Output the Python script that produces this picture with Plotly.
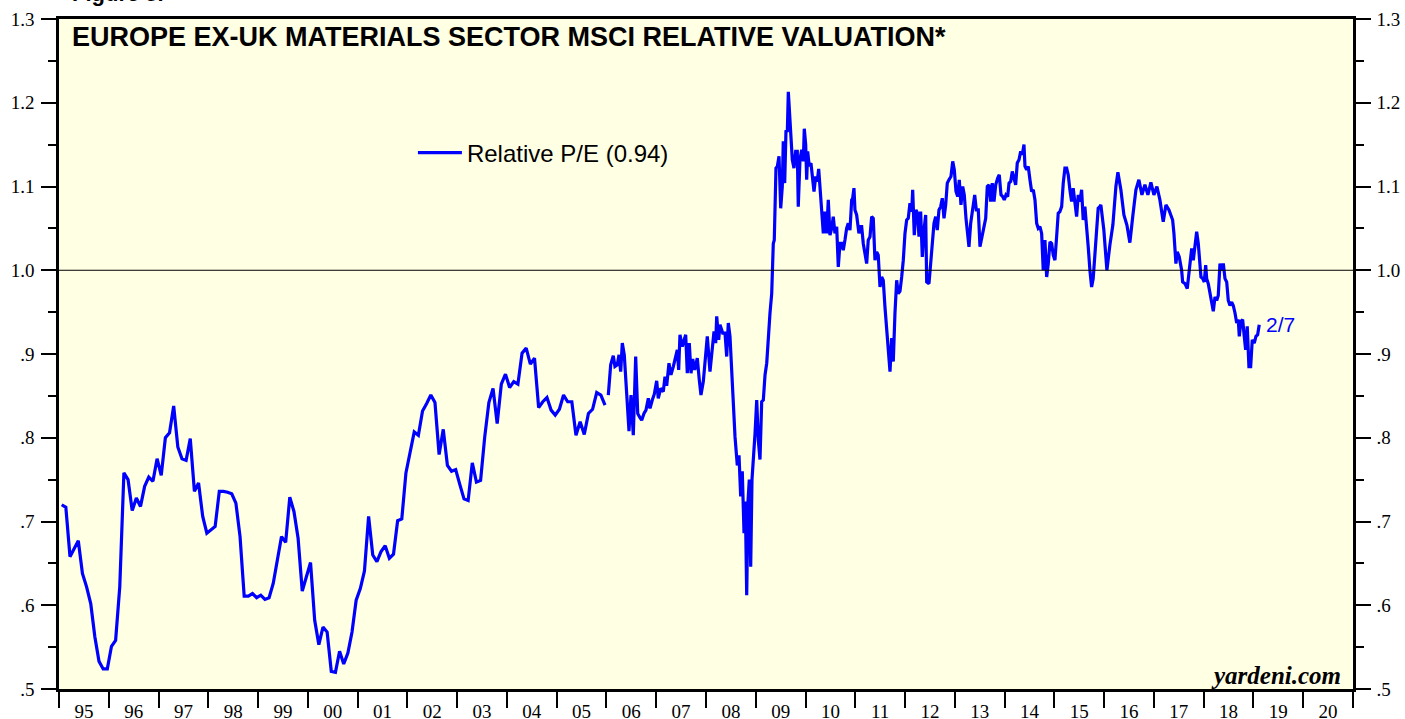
import plotly.graph_objects as go

# ---------------- data ----------------
# Monthly relative P/E, Jan 1995 - Dec 2005
monthly_pe = [
    0.720, 0.717, 0.658, 0.667, 0.677, 0.638, 0.622, 0.602, 0.562, 0.533, 0.524, 0.524,
    0.551, 0.558, 0.622, 0.758, 0.750, 0.713, 0.728, 0.718, 0.742, 0.753, 0.748, 0.775,
    0.755, 0.800, 0.806, 0.838, 0.789, 0.775, 0.773, 0.799, 0.736, 0.746, 0.706, 0.686,
    0.690, 0.694, 0.736, 0.736, 0.735, 0.733, 0.722, 0.682, 0.611, 0.611, 0.614, 0.609,
    0.612, 0.607, 0.609, 0.626, 0.654, 0.682, 0.675, 0.729, 0.712, 0.680, 0.617, 0.634,
    0.651, 0.582, 0.553, 0.574, 0.568, 0.521, 0.520, 0.545, 0.530, 0.543, 0.568, 0.606,
    0.620, 0.641, 0.706, 0.660, 0.652, 0.664, 0.671, 0.656, 0.661, 0.701, 0.703, 0.758,
    0.781, 0.807, 0.803, 0.832, 0.841, 0.851, 0.842, 0.780, 0.810, 0.767, 0.760, 0.762,
    0.744, 0.727, 0.725, 0.770, 0.747, 0.749, 0.801, 0.842, 0.859, 0.817, 0.864, 0.876,
    0.860, 0.867, 0.864, 0.901, 0.907, 0.888, 0.895, 0.836, 0.843, 0.848, 0.833, 0.827,
    0.834, 0.851, 0.843, 0.843, 0.803, 0.819, 0.804, 0.829, 0.834, 0.854, 0.851, 0.839,
]
MONTHLY_START_YEAR = 1995

# Weekly relative P/E (decimal years), 2006 - Feb 7 2019
weekly_t = [
    2006.037, 2006.085, 2006.137, 2006.171, 2006.218, 2006.252, 2006.286, 2006.318, 2006.358, 2006.406,
    2006.453, 2006.493, 2006.539, 2006.587, 2006.628, 2006.674, 2006.708, 2006.754, 2006.794, 2006.841,
    2006.875, 2006.921, 2006.961, 2007.009, 2007.041, 2007.090, 2007.142, 2007.176, 2007.210, 2007.256,
    2007.296, 2007.343, 2007.391, 2007.423, 2007.451, 2007.477, 2007.524, 2007.558, 2007.592, 2007.624,
    2007.664, 2007.699, 2007.733, 2007.773, 2007.825, 2007.865, 2007.899, 2007.946, 2007.994, 2008.026,
    2008.080, 2008.127, 2008.161, 2008.195, 2008.215, 2008.255, 2008.281, 2008.336, 2008.382, 2008.416,
    2008.448, 2008.482, 2008.517, 2008.549, 2008.583, 2008.629, 2008.663, 2008.697, 2008.729, 2008.764,
    2008.790, 2008.818, 2008.844, 2008.870, 2008.898, 2008.924, 2008.951, 2008.985, 2009.019, 2009.051,
    2009.085, 2009.119, 2009.152, 2009.186, 2009.220, 2009.252, 2009.286, 2009.320, 2009.352, 2009.372,
    2009.406, 2009.433, 2009.467, 2009.501, 2009.533, 2009.553, 2009.581, 2009.607, 2009.634, 2009.654,
    2009.688, 2009.708, 2009.734, 2009.768, 2009.802, 2009.834, 2009.854, 2009.888, 2009.923, 2009.955,
    2009.975, 2010.003, 2010.023, 2010.043, 2010.075, 2010.109, 2010.144, 2010.170, 2010.204, 2010.236,
    2010.264, 2010.290, 2010.324, 2010.357, 2010.391, 2010.425, 2010.457, 2010.491, 2010.525, 2010.557,
    2010.591, 2010.626, 2010.658, 2010.692, 2010.726, 2010.758, 2010.792, 2010.826, 2010.858, 2010.893,
    2010.927, 2010.947, 2010.973, 2010.993, 2011.027, 2011.047, 2011.073, 2011.108, 2011.128, 2011.160,
    2011.194, 2011.228, 2011.260, 2011.295, 2011.329, 2011.361, 2011.395, 2011.429, 2011.461, 2011.496,
    2011.530, 2011.562, 2011.596, 2011.630, 2011.662, 2011.697, 2011.731, 2011.763, 2011.797, 2011.831,
    2011.863, 2011.898, 2011.932, 2011.964, 2011.998, 2012.032, 2012.064, 2012.098, 2012.133, 2012.153,
    2012.185, 2012.219, 2012.253, 2012.279, 2012.313, 2012.346, 2012.380, 2012.414, 2012.434, 2012.480,
    2012.514, 2012.547, 2012.581, 2012.615, 2012.647, 2012.681, 2012.715, 2012.748, 2012.782, 2012.816,
    2012.848, 2012.882, 2012.922, 2012.957, 2012.989, 2013.023, 2013.057, 2013.089, 2013.123, 2013.158,
    2013.190, 2013.224, 2013.258, 2013.284, 2013.318, 2013.359, 2013.399, 2013.431, 2013.471, 2013.505,
    2013.539, 2013.586, 2013.620, 2013.652, 2013.686, 2013.720, 2013.752, 2013.787, 2013.821, 2013.861,
    2013.893, 2013.927, 2013.961, 2013.993, 2014.027, 2014.062, 2014.088, 2014.122, 2014.154, 2014.188,
    2014.222, 2014.254, 2014.289, 2014.323, 2014.355, 2014.389, 2014.409, 2014.443, 2014.475, 2014.509,
    2014.543, 2014.576, 2014.610, 2014.644, 2014.676, 2014.710, 2014.744, 2014.776, 2014.810, 2014.845,
    2014.877, 2014.911, 2014.945, 2014.977, 2015.011, 2015.045, 2015.077, 2015.111, 2015.146, 2015.178,
    2015.212, 2015.246, 2015.278, 2015.312, 2015.346, 2015.378, 2015.413, 2015.447, 2015.479, 2015.513,
    2015.547, 2015.579, 2015.613, 2015.647, 2015.680, 2015.714, 2015.748, 2015.780, 2015.814, 2015.848,
    2015.880, 2015.914, 2015.934, 2015.994, 2016.055, 2016.115, 2016.175, 2016.236, 2016.276, 2016.336,
    2016.397, 2016.457, 2016.517, 2016.578, 2016.638, 2016.698, 2016.759, 2016.819, 2016.879, 2016.939,
    2017.000, 2017.060, 2017.120, 2017.187, 2017.241, 2017.302, 2017.376, 2017.402, 2017.442, 2017.469,
    2017.509, 2017.557, 2017.577, 2017.624, 2017.670, 2017.710, 2017.759, 2017.791, 2017.825, 2017.859,
    2017.891, 2017.925, 2017.945, 2017.980, 2018.012, 2018.040, 2018.060, 2018.092, 2018.126, 2018.161,
    2018.193, 2018.227, 2018.261, 2018.293, 2018.327, 2018.361, 2018.394, 2018.428, 2018.462, 2018.494,
    2018.528, 2018.562, 2018.594, 2018.629, 2018.663, 2018.695, 2018.715, 2018.749, 2018.783, 2018.815,
    2018.843, 2018.875, 2018.909, 2018.944, 2018.976, 2019.016, 2019.050, 2019.084, 2019.116,
]
weekly_pe = [
    0.851, 0.887, 0.898, 0.885, 0.887, 0.899, 0.879, 0.913, 0.899, 0.859,
    0.808, 0.851, 0.803, 0.897, 0.829, 0.824, 0.821, 0.829, 0.833, 0.847,
    0.835, 0.845, 0.852, 0.868, 0.847, 0.859, 0.855, 0.873, 0.862, 0.889,
    0.875, 0.885, 0.899, 0.905, 0.881, 0.923, 0.909, 0.917, 0.923, 0.877,
    0.913, 0.877, 0.894, 0.881, 0.895, 0.869, 0.851, 0.867, 0.895, 0.921,
    0.879, 0.907, 0.927, 0.913, 0.945, 0.917, 0.935, 0.925, 0.925, 0.897,
    0.937, 0.921, 0.873, 0.829, 0.801, 0.767, 0.779, 0.730, 0.760, 0.686,
    0.724, 0.612, 0.724, 0.750, 0.646, 0.750, 0.771, 0.805, 0.845, 0.797,
    0.774, 0.843, 0.845, 0.875, 0.889, 0.925, 0.949, 0.972, 1.032, 1.036,
    1.122, 1.124, 1.136, 1.074, 1.100, 1.154, 1.104, 1.167, 1.165, 1.213,
    1.175, 1.167, 1.132, 1.122, 1.142, 1.142, 1.076, 1.132, 1.144, 1.130,
    1.169, 1.150, 1.108, 1.142, 1.124, 1.128, 1.106, 1.094, 1.112, 1.106,
    1.121, 1.098, 1.082, 1.044, 1.070, 1.044, 1.084, 1.042, 1.050, 1.064,
    1.044, 1.052, 1.004, 1.032, 1.032, 1.024, 1.036, 1.050, 1.056, 1.048,
    1.084, 1.086, 1.098, 1.072, 1.066, 1.056, 1.044, 1.052, 1.052, 1.032,
    1.022, 1.008, 1.036, 1.040, 1.064, 1.062, 1.012, 1.022, 1.018, 0.980,
    0.992, 0.988, 0.956, 0.929, 0.899, 0.879, 0.919, 0.891, 0.949, 0.988,
    0.972, 0.975, 0.992, 1.012, 1.044, 1.060, 1.062, 1.080, 1.070, 1.096,
    1.042, 1.072, 1.068, 1.040, 1.070, 1.016, 1.048, 1.066, 0.986, 0.984,
    1.008, 1.030, 1.056, 1.064, 1.048, 1.072, 1.076, 1.086, 1.062, 1.078,
    1.104, 1.108, 1.112, 1.130, 1.120, 1.094, 1.088, 1.108, 1.078, 1.100,
    1.090, 1.062, 1.044, 1.028, 1.056, 1.072, 1.090, 1.072, 1.072, 1.028,
    1.038, 1.054, 1.062, 1.100, 1.102, 1.082, 1.104, 1.082, 1.102, 1.110,
    1.114, 1.090, 1.088, 1.084, 1.090, 1.088, 1.104, 1.106, 1.118, 1.110,
    1.102, 1.128, 1.132, 1.142, 1.138, 1.150, 1.124, 1.120, 1.124, 1.108,
    1.094, 1.096, 1.084, 1.056, 1.050, 1.052, 1.044, 1.000, 1.036, 0.992,
    1.008, 1.034, 1.032, 1.018, 1.012, 1.040, 1.068, 1.070, 1.076, 1.104,
    1.122, 1.122, 1.114, 1.096, 1.082, 1.098, 1.078, 1.064, 1.090, 1.082,
    1.096, 1.060, 1.076, 1.044, 1.028, 1.000, 0.980, 0.990, 1.020, 1.044,
    1.074, 1.076, 1.078, 1.048, 1.000, 1.030, 1.054, 1.100, 1.117, 1.096,
    1.066, 1.054, 1.033, 1.066, 1.096, 1.108, 1.090, 1.102, 1.090, 1.105,
    1.090, 1.100, 1.084, 1.058, 1.078, 1.072, 1.060, 1.044, 1.008, 1.022,
    1.016, 1.000, 0.986, 0.984, 0.978, 1.000, 1.026, 1.012, 1.026, 1.046,
    1.032, 1.008, 0.992, 0.990, 0.986, 1.006, 0.990, 0.984, 0.972, 0.962,
    0.951, 0.968, 0.964, 0.970, 1.008, 1.000, 1.008, 0.990, 0.986, 0.964,
    0.958, 0.962, 0.958, 0.949, 0.937, 0.941, 0.921, 0.939, 0.941, 0.921,
    0.905, 0.933, 0.885, 0.885, 0.917, 0.913, 0.921, 0.923, 0.935,
]

year_ticks = list(range(1995, 2021))
year_labels = ["%02d" % (y % 100) for y in year_ticks]
y_ticks = [0.5, 0.6, 0.7, 0.8, 0.9, 1.0, 1.1, 1.2, 1.3]
y_labels = [".5", ".6", ".7", ".8", ".9", "1.0", "1.1", "1.2", "1.3"]
REF_LEVEL = 1.0
LAST_LABEL = "2/7"
SERIES_NAME = "Relative P/E (0.94)"
TITLE = "EUROPE EX-UK MATERIALS SECTOR MSCI RELATIVE VALUATION*"

# ---------------- build ----------------
monthly_t = [MONTHLY_START_YEAR + (i + 0.65) / 12 for i in range(len(monthly_pe))]
xs = monthly_t + [None] + weekly_t
ys = monthly_pe + [None] + weekly_pe

BLUE = "#0000FF"
SERIF = "Liberation Serif, Times New Roman, serif"
SANS = "Liberation Sans, Arial, sans-serif"

fig = go.Figure()
fig.add_trace(go.Scatter(x=xs, y=ys, mode="lines", name=SERIES_NAME,
                         line=dict(color=BLUE, width=3.2), connectgaps=False,
                         showlegend=True))
# invisible trace for right axis
fig.add_trace(go.Scatter(x=[year_ticks[0]], y=[REF_LEVEL], yaxis="y2",
                         mode="markers", marker=dict(opacity=0), showlegend=False,
                         hoverinfo="skip"))

fig.add_hline(y=REF_LEVEL, line=dict(color="black", width=1))

fig.update_layout(
    width=1405, height=719,
    margin=dict(l=59, r=52, t=19, b=30),
    paper_bgcolor="white",
    plot_bgcolor="#FFFFE3",
    showlegend=True,
    legend=dict(x=0.2735, y=0.80, xanchor="left", yanchor="middle",
                bgcolor="rgba(0,0,0,0)", font=dict(family=SANS, size=24, color="black"),
                itemwidth=44),
    xaxis=dict(
        range=[1995, 2021], showgrid=False, zeroline=False, automargin=False,
        showline=True, linecolor="black", linewidth=2.5, mirror=True,
        tickmode="array", tickvals=[y + 0.5 for y in year_ticks], ticktext=year_labels,
        ticks="", ticklabelstandoff=3,
        tickfont=dict(family=SERIF, size=19, color="black"),
        minor=dict(tick0=1995, dtick=1, ticks="outside", ticklen=16, tickwidth=2,
                   tickcolor="black", showgrid=False),
    ),
    yaxis=dict(
        range=[0.5, 1.3], showgrid=False, zeroline=False, automargin=False,
        showline=True, linecolor="black", linewidth=2.5,
        tickmode="array", tickvals=y_ticks, ticktext=y_labels,
        ticks="outside", ticklen=15, tickwidth=2, tickcolor="black",
        ticklabelstandoff=3,
        tickfont=dict(family=SERIF, size=19, color="black"),
        minor=dict(dtick=0.05, tick0=0.5, ticks="outside", ticklen=8, tickwidth=2,
                   tickcolor="black", showgrid=False),
    ),
    yaxis2=dict(
        range=[0.5, 1.3], overlaying="y", side="right", showgrid=False, zeroline=False,
        automargin=False,
        showline=True, linecolor="black", linewidth=2.5,
        tickmode="array", tickvals=y_ticks, ticktext=y_labels,
        ticks="outside", ticklen=15, tickwidth=2, tickcolor="black",
        ticklabelstandoff=2,
        tickfont=dict(family=SERIF, size=19, color="black"),
        minor=dict(dtick=0.05, tick0=0.5, ticks="outside", ticklen=8, tickwidth=2,
                   tickcolor="black", showgrid=False),
    ),
    annotations=[
        dict(text="<b>" + TITLE + "</b>", xref="paper", yref="paper",
             x=0.0085, y=0.9735, xanchor="left", yanchor="middle", showarrow=False,
             font=dict(family=SANS, size=27, color="black")),
        dict(text="<b>Figure 5.</b>", xref="paper", yref="paper",
             x=0.0085, y=1.0164, xanchor="left", yanchor="bottom", showarrow=False,
             font=dict(family=SANS, size=22, color="black")),
        dict(text="<b><i>yardeni.com</i></b>", xref="paper", yref="paper",
             x=0.9923, y=0.0195, xanchor="right", yanchor="middle", showarrow=False,
             font=dict(family=SERIF, size=25, color="black")),
        dict(text=LAST_LABEL, x=weekly_t[-1], y=weekly_pe[-1], xref="x", yref="y",
             xanchor="left", yanchor="middle", xshift=5, showarrow=False,
             font=dict(family=SANS, size=21, color=BLUE)),
    ],
)

fig.write_html("out.html", config={"displayModeBar": False},
               post_script="document.body.style.margin='0px';")
